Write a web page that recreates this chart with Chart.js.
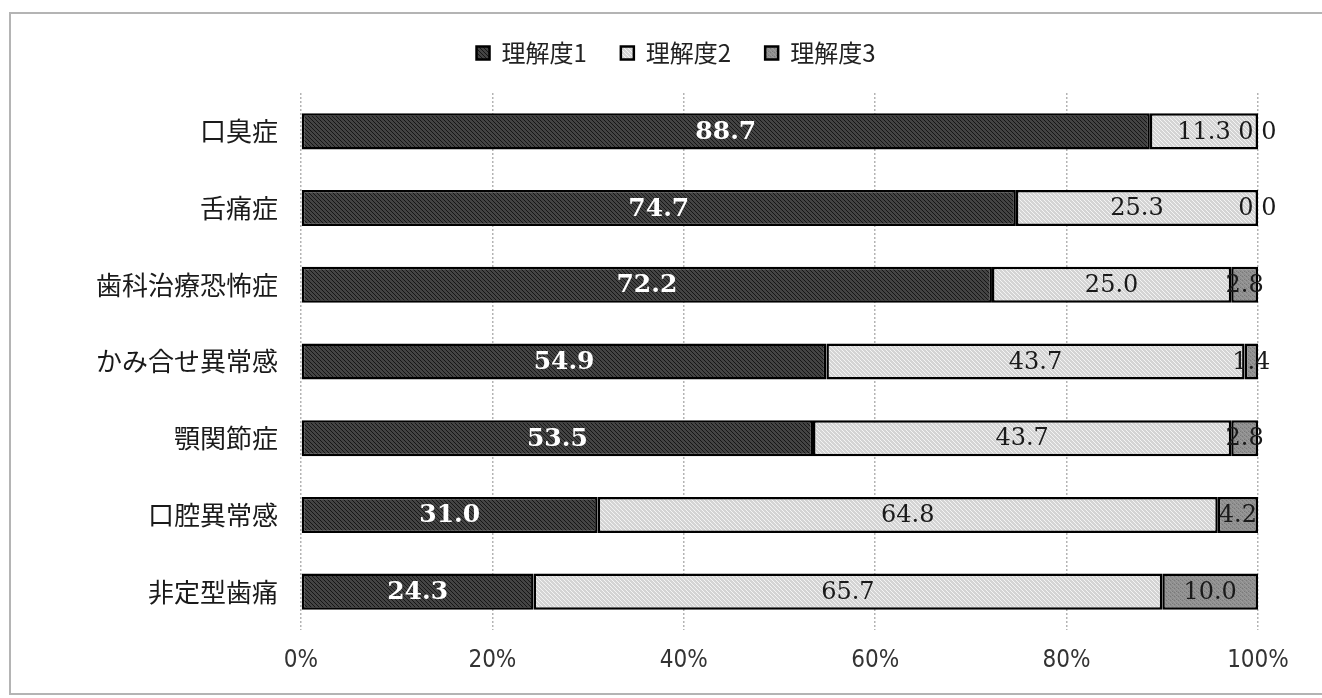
<!DOCTYPE html>
<html lang="ja">
<head>
<meta charset="utf-8">
<title>理解度</title>
<script src="https://cdn.jsdelivr.net/npm/chart.js@4/dist/chart.umd.min.js"></script>
<style>
  html, body { margin: 0; padding: 0; background: #fff; }
  .frame { position: absolute; left: 9px; top: 12px; width: 1340px; height: 683px; border: 2px solid #b4b4b4; box-sizing: border-box; }
  #chart { position: absolute; left: 0; top: 0; }
</style>
</head>
<body>
<div class="frame"></div>
<canvas id="chart" width="1322" height="698"></canvas>
<script>
// ── Data ─────────────────────────────────────────────────────────
const categories = ['口臭症', '舌痛症', '歯科治療恐怖症', 'かみ合せ異常感', '顎関節症', '口腔異常感', '非定型歯痛'];
const seriesNames = ['理解度1', '理解度2', '理解度3'];
const level1 = [88.7, 74.7, 72.2, 54.9, 53.5, 31.0, 24.3];
const level2 = [11.3, 25.3, 25.0, 43.7, 43.7, 64.8, 65.7];
const level3 = [0, 0, 2.8, 1.4, 2.8, 4.2, 10.0];
const xTicks = [0, 20, 40, 60, 80, 100];

// ── Fill patterns (hatched bars) ─────────────────────────────────
const makePattern = (base, stripe, noise) => {
  const c = document.createElement('canvas');
  c.width = 4; c.height = 4;
  const g = c.getContext('2d');
  g.fillStyle = base;
  g.fillRect(0, 0, 4, 4);
  g.fillStyle = stripe;
  for (let i = 0; i < 4; i++) g.fillRect(i, i, 1, 1);
  if (noise) { g.fillStyle = noise; g.fillRect(2, 0, 1, 1); g.fillRect(0, 3, 1, 1); }
  return g.createPattern(c, 'repeat');
};

const fills = [
  makePattern('#444444', '#161616'),
  makePattern('#d4d4d4', '#f4f4f4'),
  makePattern('#8e8e8e', '#9c9c9c', '#7a7a7a')
];

// ── Value labels centred in each segment ─────────────────────────
const segmentLabels = {
  id: 'segmentLabels',
  afterDatasetsDraw(chart) {
    const { ctx } = chart;
    ctx.save();
    ctx.textBaseline = 'middle';
    ctx.textAlign = 'center';
    chart.data.datasets.forEach((ds, i) => {
      const meta = chart.getDatasetMeta(i);
      ctx.fillStyle = i === 0 ? '#ffffff' : '#1a1a1a';
      ctx.font = i === 0 ? 'bold 25px "DejaVu Serif", serif' : '24px "DejaVu Serif", serif';
      meta.data.forEach((bar, j) => {
        const v = ds.data[j];
        const y = bar.y + 1;
        if (v === 0) {
          ctx.fillText('0', bar.x - 12, y);
          ctx.fillText('0', bar.x + 11, y);
          return;
        }
        ctx.fillText(v.toFixed(1), (bar.x + bar.base) / 2, y);
      });
    });
    ctx.restore();
  }
};

// fixed legend band height so the plot starts below it
const legendBand = {
  id: 'legendBand',
  beforeInit(chart) {
    const fit = chart.legend.fit;
    chart.legend.fit = function () { fit.bind(chart.legend)(); this.height = 86; };
  }
};

const values = [level1, level2, level3];

new Chart(document.getElementById('chart'), {
  type: 'bar',
  data: {
    labels: categories,
    datasets: seriesNames.map((name, i) => ({
      label: name,
      data: values[i],
      backgroundColor: fills[i],
      borderColor: '#000',
      borderWidth: 2.5,
      borderSkipped: false,
      barPercentage: 0.47,
      categoryPercentage: 1
    }))
  },
  options: {
    responsive: false,
    animation: false,
    indexAxis: 'y',
    layout: { padding: { left: 94, right: 64, top: 7, bottom: 18 } },
    plugins: {
      legend: {
        position: 'top',
        labels: {
          color: '#222',
          boxWidth: 13,
          boxHeight: 13,
          padding: 34,
          font: { family: '"Noto Sans CJK JP", sans-serif', size: 24 }
        }
      },
      tooltip: { enabled: false }
    },
    scales: {
      x: {
        stacked: true,
        min: 0,
        max: 100,
        afterBuildTicks: s => { s.ticks = xTicks.map(v => ({ value: v })); },
        afterFit: s => { s.height = 50; },
        ticks: {
          color: '#333',
          padding: 16,
          callback: v => v + '%',
          font: { family: '"Liberation Sans Narrow", "DejaVu Sans Condensed", sans-serif', size: 24 }
        },
        grid: { color: '#b4b4b4', lineWidth: 1.5, drawTicks: false },
        border: { display: false, dash: [2, 2] }
      },
      y: {
        stacked: true,
        afterFit: s => { s.width = 301 - 94; },
        ticks: {
          color: '#1a1a1a',
          padding: 23,
          font: { family: '"Noto Sans CJK JP", sans-serif', size: 26 }
        },
        grid: { display: false, drawTicks: false },
        border: { display: false }
      }
    }
  },
  plugins: [segmentLabels, legendBand]
});
</script>
</body>
</html>
